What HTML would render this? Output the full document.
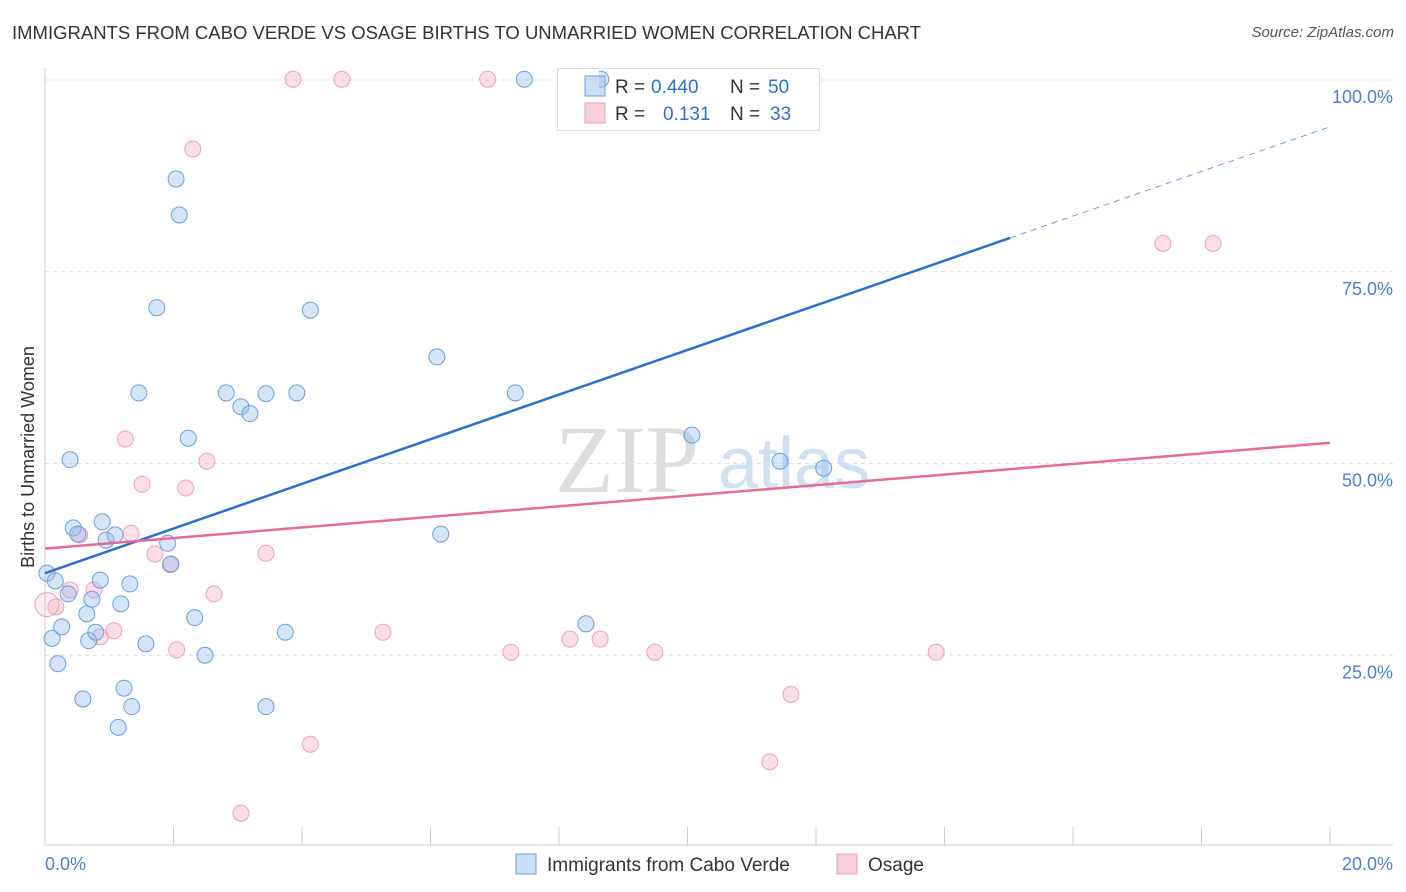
<!DOCTYPE html>
<html><head><meta charset="utf-8"><style>
body{margin:0;background:#fff;font-family:"Liberation Sans",sans-serif}
#wrap{position:relative;width:1406px;height:892px}
.t{position:absolute;white-space:nowrap}
</style></head><body>
<div id="wrap">
<div class="t" style="left:12px;top:22px;font-size:18.5px;color:#333">IMMIGRANTS FROM CABO VERDE VS OSAGE BIRTHS TO UNMARRIED WOMEN CORRELATION CHART</div>
<div class="t" style="right:12px;top:24px;font-size:15px;color:#555;font-style:italic">Source: ZipAtlas.com</div>
<svg id="svg" width="1406" height="892" style="position:absolute;left:0;top:0"></svg>
</div>
<script>
const xTicks=[0,20];
const yTicks=[25,50,75,100];
const blueX=[0.03,0.16,0.11,0.20,0.26,0.36,0.39,0.44,0.51,0.59,0.65,0.68,0.73,0.79,0.86,0.89,0.95,1.09,1.14,1.18,1.23,1.32,1.35,1.46,1.57,1.74,1.91,1.96,2.04,2.09,2.23,2.33,2.49,2.82,3.05,3.19,3.44,3.44,3.74,3.92,4.13,6.10,6.16,7.32,7.46,8.42,8.65,10.07,11.44,12.12];
const blueY=[35.7,34.7,27.2,23.9,28.7,33.0,50.5,41.6,40.8,19.3,30.4,26.9,32.3,28.0,34.8,42.4,40.0,40.7,15.6,31.7,20.7,34.3,18.3,59.2,26.5,70.3,39.6,36.9,87.1,82.4,53.3,29.9,25.0,59.2,57.4,56.5,59.1,18.3,28.0,59.2,70.0,63.9,40.8,59.2,100.1,29.1,100.1,53.7,50.3,49.4];
const pinkX=[0.03,0.17,0.39,0.54,0.76,0.86,1.07,1.25,1.34,1.51,1.71,1.95,2.05,2.19,2.30,2.52,2.63,3.05,3.44,3.86,4.13,4.62,5.26,6.89,7.25,8.17,8.64,9.49,11.28,11.61,13.87,17.40,18.18];
const pinkY=[31.6,31.3,33.5,40.7,33.5,27.4,28.2,53.2,40.9,47.3,38.2,36.8,25.7,46.8,91.0,50.3,33.0,4.4,38.3,100.1,13.4,100.1,28.0,100.1,25.4,27.1,27.1,25.4,11.1,19.9,25.4,78.7,78.7];
const blueTrend=[35.7,93.9], blueSolidEnd=15.02;
const pinkTrend=[38.9,52.7];
const X=v=>45+v/20*1285, Y=v=>847-v/100*767;
const s=document.getElementById('svg'), NS='http://www.w3.org/2000/svg';
function mk(t,a){const e=document.createElementNS(NS,t);for(const k in a)e.setAttribute(k,a[k]);s.appendChild(e);return e;}
let w=mk('text',{x:555,y:492,'font-size':96,fill:'#ddd','font-family':'Liberation Serif, serif'});w.textContent='ZIP';


w=mk('text',{x:718,y:488,'font-size':72,fill:'#cfe0f3','font-family':'Liberation Sans, sans-serif'});w.textContent='atlas';


yTicks.forEach(v=>{
 let g=mk('line',{x1:45,x2:1393,y1:Y(v),y2:Y(v),stroke:'#ddd','stroke-dasharray':'4,4'});
 
 
 let t=mk('text',{x:1393,y:Y(v)+23,'text-anchor':'end','font-size':18,fill:'#4a7fd4','font-family':'Liberation Sans, sans-serif'});t.textContent=v.toFixed(1)+'%';
 
 
});
let a=mk('line',{x1:45,x2:45,y1:68,y2:845,stroke:'#ccc'});


a=mk('line',{x1:45,x2:1393,y1:845,y2:845,stroke:'#ccc'});


for(let i=1;i<=10;i++){let tk=mk('line',{x1:X(i*2),x2:X(i*2),y1:827,y2:845,stroke:'#ccc'});
 
 }
xTicks.forEach((v,i)=>{let t=mk('text',{x:i?1393:45,y:870,'text-anchor':i?'end':'start','font-size':18,fill:'#4a7fd4','font-family':'Liberation Sans, sans-serif'});t.textContent=v.toFixed(1)+'%';
 
 });
let yt=mk('text',{transform:'translate(34,457) rotate(-90)','text-anchor':'middle','font-size':18,fill:'#333','font-family':'Liberation Sans, sans-serif'});yt.textContent='Births to Unmarried Women';


// legend box drawn before points so the hidden point peeks through
let r=mk('rect',{x:557.5,y:68.5,width:262,height:62,fill:'#fff',stroke:'#ddd'});


pinkX.forEach((x,i)=>{let c=mk('circle',{cx:X(x),cy:Y(pinkY[i]),r:i==0?12:8,fill:i==0?'rgba(244,160,190,0.2)':'rgba(244,160,190,0.35)',stroke:'#eba0ba','stroke-width':1});
 
 });
blueX.forEach((x,i)=>{let c=mk('circle',{cx:X(x),cy:Y(blueY[i]),r:8,fill:'rgba(150,190,240,0.4)',stroke:'#6a9ee0','stroke-width':1});
 
 });
const bY=x=>blueTrend[0]+(blueTrend[1]-blueTrend[0])*x/20;
let l=mk('line',{x1:X(0),y1:Y(bY(0)),x2:X(blueSolidEnd),y2:Y(bY(blueSolidEnd)),stroke:'#2a6fd6','stroke-width':2.5});


l=mk('line',{x1:X(blueSolidEnd),y1:Y(bY(blueSolidEnd)),x2:X(20),y2:Y(bY(20)),stroke:'#6a9ee0','stroke-width':1,'stroke-dasharray':'6,5'});


l=mk('line',{x1:X(0),y1:Y(pinkTrend[0]),x2:X(20),y2:Y(pinkTrend[1]),stroke:'#e56b98','stroke-width':2.5});


let r2=mk('rect',{x:557.5,y:68.5,width:40,height:62,fill:'rgba(255,255,255,0)'});


let r3=mk('rect',{x:560,y:70,width:37,height:59,fill:'#fff'});


let r4=mk('rect',{x:597,y:70,width:2,height:59,fill:'#fff'});


[['rgba(150,190,240,0.5)','#6a9ee0','0.440','50',86],['rgba(244,160,190,0.5)','#eba0ba','0.131','33',113]].forEach(d=>{
 let q=mk('rect',{x:585,y:d[4]-10,width:20,height:20,fill:d[0],stroke:d[1]});
 
 
 let t=mk('text',{x:615,y:d[4]+7,'font-size':19,fill:'#333','font-family':'Liberation Sans, sans-serif'});
 t.innerHTML='R = <tspan fill="#2a6fd6" x="651">'+d[2]+'</tspan><tspan x="730" fill="#333">N = </tspan><tspan fill="#2a6fd6" x="768">'+d[3]+'</tspan>';
 if(d[2]==='0.131')t.children[0].setAttribute('x','663');
 if(d[2]==='0.131')t.children[2].setAttribute('x','770');
 
 
});
[['rgba(150,190,240,0.5)','#6a9ee0',516,'Immigrants from Cabo Verde'],['rgba(244,160,190,0.5)','#eba0ba',837,'Osage']].forEach(d=>{
 let q=mk('rect',{x:d[2],y:854,width:20,height:20,fill:d[0],stroke:d[1]});
 
 
 let t=mk('text',{x:d[2]+31,y:871,'font-size':19,fill:'#333','font-family':'Liberation Sans, sans-serif'});t.textContent=d[3];
 
 
});
</script>
</body></html>
